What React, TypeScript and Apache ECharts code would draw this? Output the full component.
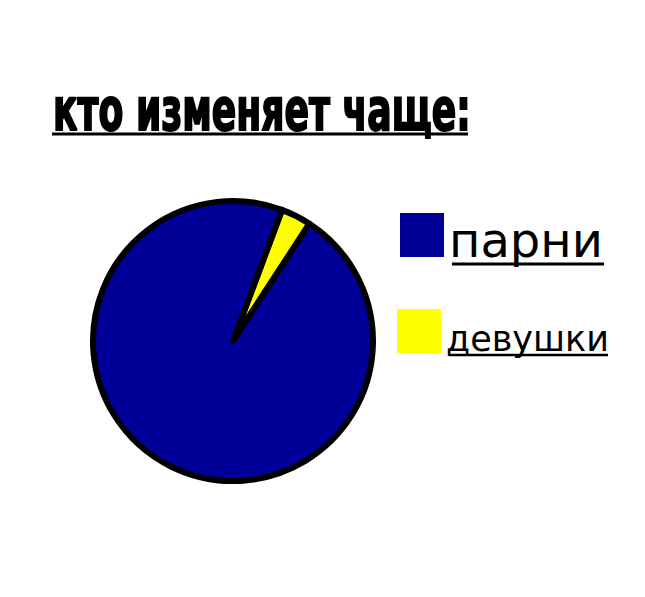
import React, { useEffect, useRef } from "react";
import * as echarts from "echarts";

const titleText = "кто изменяет чаще:";
const categories = ["парни", "девушки"];
const shares = [96.5, 3.5];
const colors = ["#000099", "#ffff00"];

const TITLE_FONT = 'bold 58px "DejaVu Sans Condensed", "DejaVu Sans", sans-serif';
const LEGEND_FONT = '"DejaVu Sans", sans-serif';

function measure(text: string, font: string): number {
  const ctx = document.createElement("canvas").getContext("2d")!;
  ctx.font = font;
  return ctx.measureText(text).width;
}

function legendFor(name: string, left: number, top: number, fontSize: number, shift: number) {
  return {
    left,
    top,
    padding: 0,
    orient: "vertical",
    itemWidth: 44,
    itemHeight: 44,
    icon: "rect",
    selectedMode: false,
    itemStyle: { borderWidth: 0 },
    data: [name],
    formatter: "{t|{name}}",
    textStyle: {
      rich: {
        t: {
          fontFamily: LEGEND_FONT,
          fontSize,
          color: "#000",
          padding: [shift * 2, 0, 0, 0],
        },
      },
    },
  };
}

const App: React.FC = () => {
  const chartRef = useRef<HTMLDivElement>(null);

  useEffect(() => {
    const chart = echarts.init(chartRef.current!, undefined, { renderer: "svg" });
    const titleScale = 418 / measure(titleText, TITLE_FONT);

    const pieData = [
      // девушки first so the thin slice starts just right of twelve o'clock
      { name: categories[1], value: shares[1], itemStyle: { color: colors[1] } },
      { name: categories[0], value: shares[0], itemStyle: { color: colors[0] } },
    ];

    const option = {
      animation: false,
      backgroundColor: "#ffffff",
      legend: [
        legendFor(categories[0], 400, 213, 48, 5),
        legendFor(categories[1], 397, 309, 35, 8),
      ],
      graphic: [
        {
          type: "text",
          x: 53,
          y: 110,
          scaleX: titleScale,
          silent: true,
          style: {
            text: titleText,
            x: 0,
            y: 0,
            font: TITLE_FONT,
            fill: "#000",
            stroke: "#000",
            lineWidth: 2,
            align: "left",
            verticalAlign: "middle",
          },
        },
        { type: "line", silent: true, shape: { x1: 52, y1: 134, x2: 468, y2: 134 }, style: { stroke: "#000", lineWidth: 3 } },
        { type: "line", silent: true, shape: { x1: 452, y1: 264, x2: 604, y2: 264 }, style: { stroke: "#000", lineWidth: 3 } },
        { type: "line", silent: true, shape: { x1: 449, y1: 355, x2: 608, y2: 355 }, style: { stroke: "#000", lineWidth: 2.5 } },
      ],
      series: [
        {
          type: "pie",
          center: [233, 341],
          radius: 140,
          startAngle: 69.5,
          clockwise: true,
          silent: true,
          label: { show: false },
          labelLine: { show: false },
          emphasis: { disabled: true },
          itemStyle: { borderColor: "#000", borderWidth: 6 },
          data: pieData,
        },
      ],
    };

    chart.setOption(option);
    return () => {
      chart.dispose();
    };
  }, []);

  return (
    <div
      ref={chartRef}
      style={{ position: "fixed", left: 0, top: 0, width: "645px", height: "597px" }}
    ></div>
  );
};

export default App;
